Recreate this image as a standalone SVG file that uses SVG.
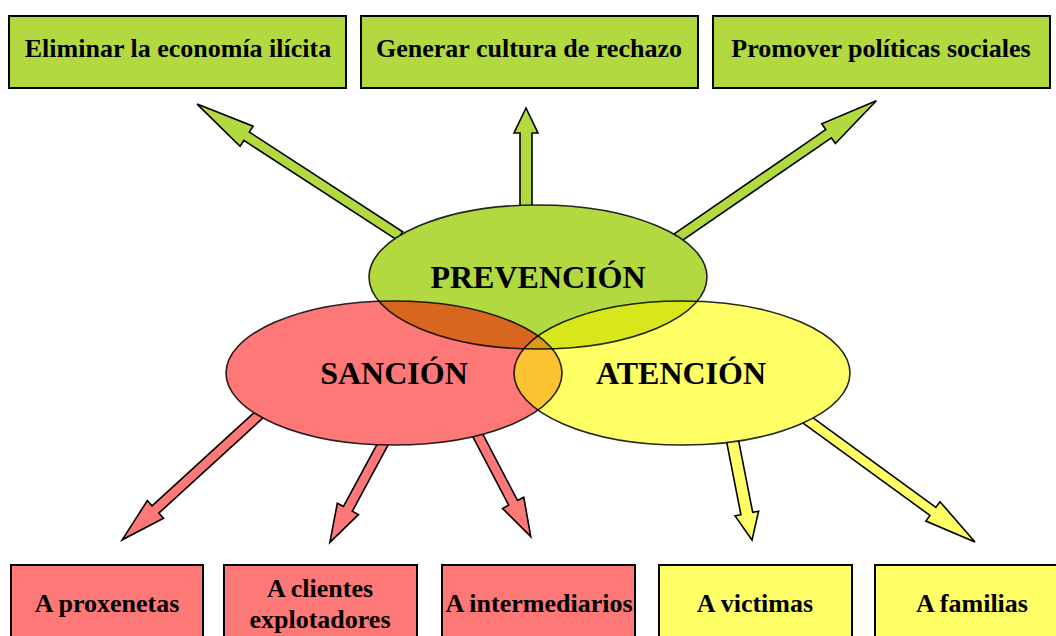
<svg xmlns="http://www.w3.org/2000/svg" width="1056" height="636" viewBox="0 0 1056 636">
<style>
text{font-family:"Liberation Serif","Times New Roman",serif;font-weight:bold;fill:#000;text-anchor:middle}
.box{stroke:#000;stroke-width:2}
.g{fill:#B2D940}.r{fill:#FF7878}.y{fill:#FFFF66}
.arr{stroke:#000;stroke-width:1.6;stroke-linejoin:miter}
.t{font-size:26px}
.big{font-size:32px}
.ol{fill:none;stroke:#000;stroke-width:1.6}
</style>
<defs>
<clipPath id="cG"><ellipse cx="538" cy="277" rx="169" ry="72"/></clipPath>
<clipPath id="cR"><ellipse cx="394" cy="373" rx="168" ry="72"/></clipPath>
</defs>
<rect width="1056" height="636" fill="#fff"/>
<g id="connectors">
<polygon class="arr g" transform="translate(400,236) rotate(-146.97)" points="0,-5 183,-5 183,-12 242,0 183,12 183,5 0,5"/>
<polygon class="arr g" transform="translate(526,210) rotate(-90)" points="0,-6 77,-6 77,-12 102,0 77,12 77,6 0,6"/>
<polygon class="arr g" transform="translate(677,238) rotate(-34.54)" points="0,-5 184,-5 184,-12 242,0 184,12 184,5 0,5"/>
<polygon class="arr r" transform="translate(261,413) rotate(137.58)" points="0,-5 143,-5 143,-12 188,0 143,12 143,5 0,5"/>
<polygon class="arr r" transform="translate(384,442) rotate(118.36)" points="0,-5 76,-5 76,-12 114,0 76,12 76,5 0,5"/>
<polygon class="arr r" transform="translate(476,432) rotate(62.35)" points="0,-5 80,-5 80,-12 118,0 80,12 80,5 0,5"/>
<polygon class="arr y" transform="translate(732,438) rotate(78.91)" points="0,-6 77,-6 77,-12 104,0 77,12 77,6 0,6"/>
<polygon class="arr y" transform="translate(806,419) rotate(36.05)" points="0,-5 157,-5 157,-12 209,0 157,12 157,5 0,5"/>
</g>
<g id="venn">
<ellipse class="g" cx="538" cy="277" rx="169" ry="72"/>
<ellipse class="r" cx="394" cy="373" rx="168" ry="72"/>
<ellipse class="y" cx="682" cy="373" rx="168" ry="72"/>
<ellipse fill="#D9661F" cx="394" cy="373" rx="168" ry="72" clip-path="url(#cG)"/>
<ellipse fill="#D8E61C" cx="682" cy="373" rx="168" ry="72" clip-path="url(#cG)"/>
<ellipse fill="#FDC232" cx="682" cy="373" rx="168" ry="72" clip-path="url(#cR)"/>
<g clip-path="url(#cG)"><ellipse fill="#D99A20" cx="682" cy="373" rx="168" ry="72" clip-path="url(#cR)"/></g>
</g>
<g id="prevencion">
<ellipse class="ol" cx="538" cy="277" rx="169" ry="72" stroke-opacity="0.85"/>
<text class="big" x="538" y="288">PREVENCIÓN</text>
</g>
<g id="sancion">
<ellipse class="ol" cx="394" cy="373" rx="168" ry="72" stroke-opacity="0.85"/>
<text class="big" x="394" y="384">SANCIÓN</text>
</g>
<g id="atencion">
<ellipse class="ol" cx="682" cy="373" rx="168" ry="72" stroke-opacity="0.85"/>
<text class="big" x="681" y="384">ATENCIÓN</text>
</g>
<g id="eliminar">
<rect class="box g" x="9" y="16" width="337" height="72"/>
<text class="t" x="178" y="57">Eliminar la economía ilícita</text>
</g>
<g id="generar">
<rect class="box g" x="361" y="16" width="337" height="72"/>
<text class="t" x="529" y="57">Generar cultura de rechazo</text>
</g>
<g id="promover">
<rect class="box g" x="713" y="16" width="337" height="72"/>
<text class="t" x="881" y="57">Promover políticas sociales</text>
</g>
<g id="proxenetas">
<rect class="box r" x="11" y="565" width="192" height="85"/>
<text class="t" x="107" y="612">A proxenetas</text>
</g>
<g id="clientes">
<rect class="box r" x="224" y="565" width="193" height="85"/>
<text class="t" x="320" y="597">A clientes</text>
<text class="t" x="320" y="628">explotadores</text>
</g>
<g id="intermediarios">
<rect class="box r" x="442" y="565" width="193" height="85"/>
<text class="t" x="539" y="612">A intermediarios</text>
</g>
<g id="victimas">
<rect class="box y" x="659" y="565" width="193" height="85"/>
<text class="t" x="755" y="612">A victimas</text>
</g>
<g id="familias">
<rect class="box y" x="875" y="565" width="194" height="85"/>
<text class="t" x="972" y="612">A familias</text>
</g>
</svg>
